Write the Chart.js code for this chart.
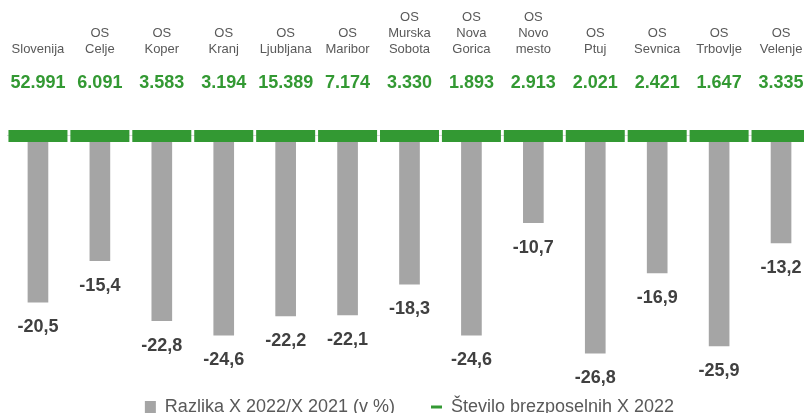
<!DOCTYPE html>
<html lang="sl">
<head>
<meta charset="utf-8">
<title>Brezposelni X 2022</title>
<script src="https://cdn.jsdelivr.net/npm/chart.js@4/dist/chart.umd.min.js"></script>
<style>
  html, body { margin: 0; padding: 0; overflow: hidden; background: #fff; }
  #wrap { position: relative; width: 812px; height: 426px; }
</style>
</head>
<body>
<div id="wrap"><canvas id="brezposelniChart"></canvas></div>
<script>
// categories (multi-line labels)
const kategorije = [
    'Slovenija',
    ['OS', 'Celje'],
    ['OS', 'Koper'],
    ['OS', 'Kranj'],
    ['OS', 'Ljubljana'],
    ['OS', 'Maribor'],
    ['OS', 'Murska', 'Sobota'],
    ['OS', 'Nova', 'Gorica'],
    ['OS', 'Novo', 'mesto'],
    ['OS', 'Ptuj'],
    ['OS', 'Sevnica'],
    ['OS', 'Trbovlje'],
    ['OS', 'Velenje']
];

// Razlika X 2022/X 2021 (v %)
const razlika = [-20.5, -15.4, -22.8, -24.6, -22.2, -22.1, -18.3, -24.6, -10.7, -26.8, -16.9, -25.9, -13.2];

// Število brezposelnih X 2022
const stevilo = [52991, 6091, 3583, 3194, 15389, 7174, 3330, 1893, 2913, 2021, 2421, 1647, 3335];

// level of the green markers (they all sit on the zero line)
const oznake = [0, 0, 0, 0, 0, 0, 0, 0, 0, 0, 0, 0, 0];

const GREEN = '#339933';
const GREY_BAR = '#a5a5a5';
const FONT = "'Liberation Sans', Arial, sans-serif";

// 52991 -> 52.991
function formatStevilo(n) {
    return String(n).replace(/\B(?=(\d{3})+(?!\d))/g, '.');
}

// -20.5 -> -20,5
function formatRazlika(v) {
    return v.toFixed(1).replace('.', ',');
}

// draws the value labels under bars and the green numbers above the markers
const valueLabels = {
    id: 'valueLabels',
    afterDatasetsDraw(chart) {
        const ctx = chart.ctx;
        const barMeta = chart.getDatasetMeta(0);
        ctx.save();
        ctx.textAlign = 'center';
        ctx.textBaseline = 'middle';

        barMeta.data.forEach((bar, i) => {
            ctx.fillStyle = '#404040';
            ctx.font = 'bold 18px ' + FONT;
            ctx.fillText(formatRazlika(razlika[i]), bar.x, bar.y + 25);

            ctx.fillStyle = GREEN;
            ctx.font = 'bold 18px ' + FONT;
            ctx.fillText(formatStevilo(stevilo[i]), bar.x, bar.base - 53);
        });
        ctx.restore();
    }
};

const ctx = document.getElementById('brezposelniChart').getContext('2d');

new Chart(ctx, {
    type: 'bar',
    data: {
        labels: kategorije,
        datasets: [
            {
                type: 'bar',
                label: 'Razlika X 2022/X 2021 (v %)',
                data: razlika,
                backgroundColor: GREY_BAR,
                borderWidth: 0,
                barThickness: 20,
                pointStyle: 'rect',
                order: 1
            },
            {
                type: 'line',
                label: 'Število brezposelnih X 2022',
                data: oznake,
                showLine: false,
                pointStyle: 'line',
                pointRadius: 29.5,
                pointHoverRadius: 29.5,
                borderColor: GREEN,
                backgroundColor: GREEN,
                borderWidth: 12,
                pointBorderWidth: 12,
                clip: false,
                order: 0
            }
        ]
    },
    options: {
        responsive: true,
        maintainAspectRatio: false,
        animation: false,
        layout: {
            autoPadding: false,
            padding: { top: 5, left: 7, right: 0, bottom: 0 }
        },
        plugins: {
            tooltip: { enabled: false },
            legend: {
                position: 'bottom',
                labels: {
                    usePointStyle: true,
                    pointStyleWidth: 11,
                    boxHeight: 12,
                    boxWidth: 12,
                    padding: 36,
                    color: '#595959',
                    font: { family: FONT, size: 18 },
                    sort: (a, b) => a.datasetIndex - b.datasetIndex,
                    generateLabels(chart) {
                        const items = Chart.defaults.plugins.legend.labels.generateLabels(chart);
                        items.forEach(item => {
                            if (item.datasetIndex === 1) {
                                item.lineWidth = 3;
                                item.strokeStyle = GREEN;
                            } else {
                                item.lineWidth = 0;
                            }
                        });
                        return items;
                    }
                }
            }
        },
        scales: {
            x: {
                position: 'top',
                grid: { display: false, drawTicks: false },
                border: { display: false },
                ticks: {
                    autoSkip: false,
                    maxRotation: 0,
                    padding: 4,
                    color: '#595959',
                    font: { family: FONT, size: 13, lineHeight: 1.23 }
                }
            },
            y: {
                min: -27.9,
                max: 9.26,
                border: { display: false },
                ticks: { display: false },
                grid: {
                    drawTicks: false,
                    color: c => (c.tick.value === 0 ? '#d9d9d9' : 'transparent')
                }
            }
        }
    },
    plugins: [valueLabels]
});
</script>
</body>
</html>
